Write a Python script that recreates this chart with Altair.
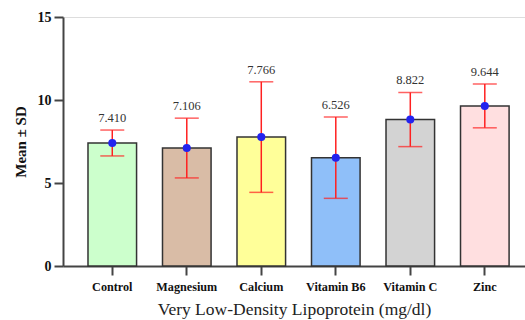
import altair as alt
import pandas as pd

groups = ["Control", "Magnesium", "Calcium", "Vitamin B6", "Vitamin C", "Zinc"]
means = [7.410, 7.106, 7.766, 6.526, 8.822, 9.644]
sds = [0.78, 1.80, 3.33, 2.45, 1.63, 1.32]
labels = ["7.410", "7.106", "7.766", "6.526", "8.822", "9.644"]
colors = ["#ccffcc", "#d9bca6", "#ffff99", "#8fbff9", "#d3d3d3", "#ffdfe0"]

df = pd.DataFrame({
    "group": groups,
    "mean": means,
    "lo": [m - s for m, s in zip(means, sds)],
    "hi": [m + s for m, s in zip(means, sds)],
    "label": labels,
})

font = "Liberation Serif"
xs = alt.X("group:N", sort=groups,
           scale=alt.Scale(paddingInner=0.348, paddingOuter=0.2745, align=0.611),
           axis=alt.Axis(title="Very Low-Density Lipoprotein (mg/dl)", labelAngle=0,
                         labelFont=font, labelFontWeight="bold", labelFontSize=12.2,
                         labelColor="#111", labelPadding=5,
                         titleFont=font, titleFontSize=17.5, titleFontWeight="normal",
                         titleColor="#222", titlePadding=8,
                         domainColor="#444", domainWidth=2, tickColor="#444",
                         tickWidth=2, tickSize=9))
yscale = alt.Scale(domain=[0, 15], nice=False)
yaxis = alt.Axis(title="Mean ± SD", values=[0, 5, 10, 15], grid=False,
                 labelFont=font, labelFontWeight="bold", labelFontSize=14,
                 labelColor="#111", labelPadding=3,
                 titleFont=font, titleFontSize=15, titleFontWeight="bold",
                 titleColor="#111", titlePadding=9,
                 domainColor="#444", domainWidth=2, tickColor="#444",
                 tickWidth=2, tickSize=9)

base = alt.Chart(df).encode(x=xs)

bars = base.mark_bar(stroke="#333", strokeWidth=1.5).encode(
    y=alt.Y("mean:Q", scale=yscale, axis=yaxis),
    color=alt.Color("group:N", sort=groups,
                    scale=alt.Scale(domain=groups, range=colors), legend=None),
)

rules = base.mark_rule(color="#ff2020", strokeWidth=1.5).encode(
    y=alt.Y("lo:Q", scale=yscale), y2="hi:Q")

caps_hi = base.mark_tick(color="#ff2020", thickness=1.5, size=24).encode(
    y=alt.Y("hi:Q", scale=yscale))
caps_lo = base.mark_tick(color="#ff2020", thickness=1.5, size=24).encode(
    y=alt.Y("lo:Q", scale=yscale))

pts = base.mark_point(filled=True, color="#2323ee", size=65, opacity=1).encode(
    y=alt.Y("mean:Q", scale=yscale))

txt = base.mark_text(font=font, fontSize=12.5, color="#333", baseline="bottom", dy=-5).encode(
    y=alt.Y("hi:Q", scale=yscale), text="label:N")

chart = alt.layer(bars, rules, caps_hi, caps_lo, pts, txt).properties(
    width=462, height=249,
    padding={"left": 63, "top": 17, "right": 0, "bottom": 54},
    autosize=alt.AutoSizeParams(type="none"),
).configure_view(stroke=None).configure(background="white")

chart.save("out.html", embed_options={"renderer": "svg", "actions": False})
